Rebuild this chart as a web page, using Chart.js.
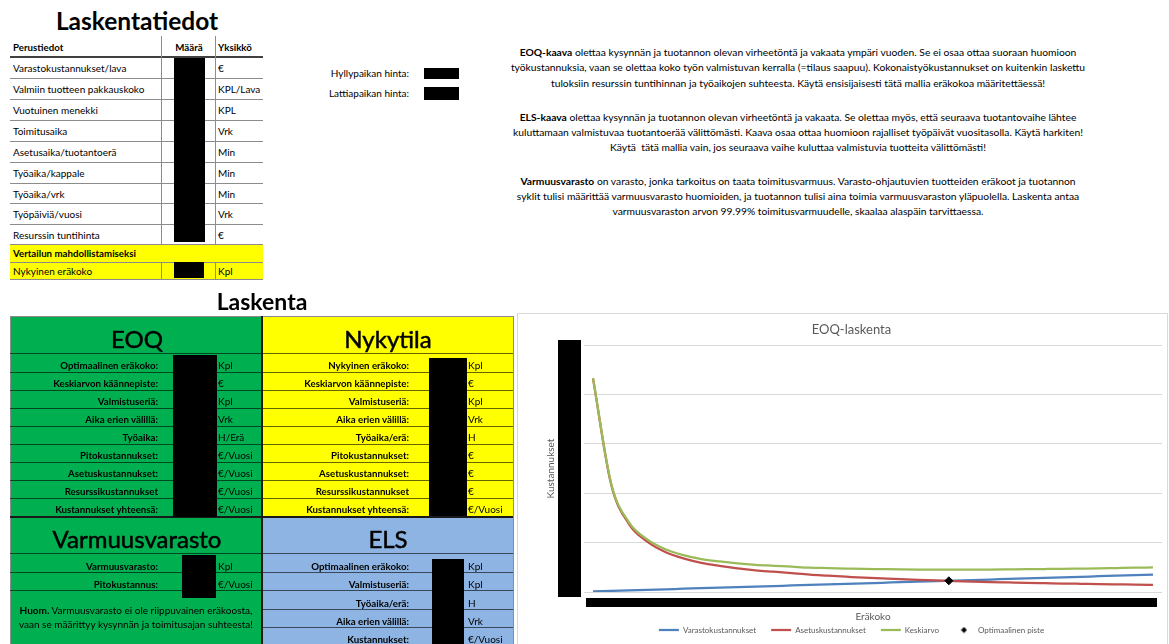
<!DOCTYPE html>
<html>
<head>
<meta charset="utf-8">
<script src="https://cdn.jsdelivr.net/npm/chart.js@4.4.0/dist/chart.umd.min.js"></script>
<style>
  body { margin: 0; width: 1169px; height: 644px; overflow: hidden; background: #fff; font-family: Lato, "Noto Sans", sans-serif; color: #000; position: relative; }
  .a { position: absolute; white-space: pre; }
  #chartBox { position: absolute; left: 517px; top: 313px; width: 649px; height: 340px; border: 1px solid #d9d9d9; }
  #chartWrap { position: relative; width: 649px; height: 330px; }
</style>
</head>
<body>
<div id="chartBox"><div id="chartWrap"><canvas id="eoq"></canvas></div></div>
<script>
// chart data (gridline step = 100)
const eraKoko = [10, 20, 30, 40, 50, 60, 70, 80, 90, 100, 110, 120, 130, 140, 150, 160,
  170, 180, 190, 200, 210, 220, 230, 240, 250, 260, 270, 280, 290, 300, 310, 320];
const varastoKust = [1.1, 2.2, 3.3, 4.4, 5.5, 6.6, 7.7, 8.8, 9.9, 11.0, 12.1, 13.2, 14.3, 15.4, 16.5, 17.6,
  18.7, 19.8, 20.9, 22.0, 23.1, 24.2, 25.3, 26.4, 27.5, 28.6, 29.7, 30.8, 31.9, 33.0, 34.1, 35.2];
const asetusKust = [432, 218, 137, 102, 81, 68, 59, 53, 48, 44, 41, 38, 35, 33, 31, 29,
  27.5, 26, 24.6, 23.3, 22.1, 21.1, 20.2, 19.4, 18.6, 17.9, 17.2, 16.6, 16, 15.5, 15, 14.6];
const keskiarvo = [433.1, 220.2, 140.3, 106.4, 86.5, 74.6, 66.7, 61.8, 57.9, 55, 53.1, 51.2, 49.3, 48.4, 47.5, 46.6,
  46.2, 45.8, 45.5, 45.3, 45.2, 45.3, 45.5, 45.8, 46.1, 46.5, 46.9, 47.4, 47.9, 48.5, 49.1, 49.8];
const optimiEra = [207];
const optimiKust = [22.7];
const yTicks = [0, 100, 200, 300, 400, 500];

// sheet texts
const perusRivit = [
  ["Varastokustannukset/lava", "€"], ["Valmiin tuotteen pakkauskoko", "KPL/Lava"], ["Vuotuinen menekki", "KPL"],
  ["Toimitusaika", "Vrk"], ["Asetusaika/tuotantoerä", "Min"], ["Työaika/kappale", "Min"],
  ["Työaika/vrk", "Min"], ["Työpäiviä/vuosi", "Vrk"], ["Resurssin tuntihinta", "€"]
];
const eoqRivit = [
  ["Optimaalinen eräkoko:", "Kpl"], ["Keskiarvon käännepiste:", "€"], ["Valmistuseriä:", "Kpl"],
  ["Aika erien välillä:", "Vrk"], ["Työaika:", "H/Erä"], ["Pitokustannukset:", "€/Vuosi"],
  ["Asetuskustannukset:", "€/Vuosi"], ["Resurssikustannukset", "€/Vuosi"], ["Kustannukset yhteensä:", "€/Vuosi"]
];
const nykyRivit = [
  ["Nykyinen eräkoko:", "Kpl"], ["Keskiarvon käännepiste:", "€"], ["Valmistuseriä:", "Kpl"],
  ["Aika erien välillä:", "Vrk"], ["Työaika/erä:", "H"], ["Pitokustannukset:", "€"],
  ["Asetuskustannukset:", "€"], ["Resurssikustannukset", "€"], ["Kustannukset yhteensä:", "€/Vuosi"]
];
const varmuusRivit = [["Varmuusvarasto:", "Kpl"], ["Pitokustannus:", "€/Vuosi"]];
const elsRivit = [
  ["Optimaalinen eräkoko:", "Kpl"], ["Valmistuseriä:", "Kpl"], ["Työaika/erä:", "H"],
  ["Aika erien välillä:", "Vrk"], ["Kustannukset:", "€/Vuosi"]
];
const kappaleet = [
  ["<b>EOQ-kaava</b> olettaa kysynnän ja tuotannon olevan virheetöntä ja vakaata ympäri vuoden. Se ei osaa ottaa suoraan huomioon",
   "työkustannuksia, vaan se olettaa koko työn valmistuvan kerralla (=tilaus saapuu). Kokonaistyökustannukset on kuitenkin laskettu",
   "tuloksiin resurssin tuntihinnan ja työaikojen suhteesta. Käytä ensisijaisesti tätä mallia eräkokoa määritettäessä!"],
  ["<b>ELS-kaava</b> olettaa kysynnän ja tuotannon olevan virheetöntä ja vakaata. Se olettaa myös, että seuraava tuotantovaihe lähtee",
   "kuluttamaan valmistuvaa tuotantoerää välittömästi. Kaava osaa ottaa huomioon rajalliset työpäivät vuositasolla. Käytä harkiten!",
   "Käytä  tätä mallia vain, jos seuraava vaihe kuluttaa valmistuvia tuotteita välittömästi!"],
  ["<b>Varmuusvarasto</b> on varasto, jonka tarkoitus on taata toimitusvarmuus. Varasto-ohjautuvien tuotteiden eräkoot ja tuotannon",
   "syklit tulisi määrittää varmuusvarasto huomioiden, ja tuotannon tulisi aina toimia varmuusvaraston yläpuolella. Laskenta antaa",
   "varmuusvaraston arvon 99.99% toimitusvarmuudelle, skaalaa alaspäin tarvittaessa."]
];

const el = (x, y, w, h, css, html) => {
  const d = document.createElement('div');
  d.className = 'a';
  d.style.cssText = `left:${x}px;top:${y}px;width:${w}px;height:${h}px;` + (css || '');
  if (html != null) d.innerHTML = html;
  document.body.appendChild(d);
  return d;
};
const rect = (x1, y1, x2, y2, bg) => el(x1, y1, x2 - x1, y2 - y1, `background:${bg}`);
const hline = (x1, x2, y, c, t) => el(x1, y, x2 - x1, t || 1, `background:${c}`);
const vline = (x, y1, y2, c, t) => el(x, y1, t || 1, y2 - y1, `background:${c}`);
const txt = (x, y, s, align, css) => {
  const base = 'line-height:16px;' + (css || '');
  if (align === 'r') return el(x - 400, y - 8, 400, 16, 'text-align:right;' + base, s);
  if (align === 'c') return el(x - 400, y - 8, 800, 16, 'text-align:center;' + base, s);
  return el(x, y - 8, 400, 16, base, s);
};
const small = 'font-size:10px;';
const smallB = 'font-size:9.7px;font-weight:bold;';

// --- Laskentatiedot ---
rect(10, 244, 263, 279, '#ffff00');
txt(137, 21, 'Laskentatiedot', 'c', 'font-size:24.5px;font-weight:bold;');
txt(13, 47, 'Perustiedot', 'l', smallB);
txt(189, 47, 'Määrä', 'c', smallB);
txt(218, 47, 'Yksikkö', 'l', smallB);
hline(10, 263, 56, '#404040', 2);
const rowTops = [57, 78, 99, 120, 141, 162, 183, 203, 224, 244];
perusRivit.forEach((r, i) => {
  const cy = (rowTops[i] + rowTops[i + 1]) / 2 + 0.5;
  txt(13, cy, r[0], 'l', small);
  txt(218, cy, r[1], 'l', small);
  hline(10, 263, rowTops[i + 1], '#8c8c8c');
});
vline(161, 36, 244, '#8c8c8c');
vline(215, 36, 244, '#8c8c8c');
vline(161, 262, 279, '#8c8c8c');
vline(215, 262, 279, '#8c8c8c');
hline(10, 263, 262, '#8c8c8c');
hline(10, 263, 279, '#8c8c8c');
txt(13, 253, 'Vertailun mahdollistamiseksi', 'l', smallB);
txt(13, 271, 'Nykyinen eräkoko', 'l', small);
txt(218, 271, 'Kpl', 'l', small);
rect(174, 58, 205, 242, '#000');
rect(174, 262, 204, 278, '#000');

// --- hinnat ---
txt(409, 73, 'Hyllypaikan hinta:', 'r', small);
txt(409, 93, 'Lattiapaikan hinta:', 'r', small);
rect(424, 68, 459, 79, '#000');
rect(424, 87, 459, 100, '#000');

// --- selitteet ---
const parY = [[52, 67, 83], [117, 132, 147], [181, 196, 211]];
kappaleet.forEach((p, i) => p.forEach((line, j) => txt(798, parY[i][j], line, 'c', 'font-size:10.3px;')));

// --- Laskenta ---
txt(262, 301, 'Laskenta', 'c', 'font-size:23px;font-weight:bold;');
rect(10, 316, 262, 517, '#00b050');
rect(262, 316, 513, 517, '#ffff00');
rect(10, 517, 262, 644, '#00b050');
rect(262, 517, 513, 644, '#8db4e2');
const rowLine = 'rgba(0,0,0,0.6)';
hline(10, 513, 316, '#8c8c8c');
vline(10, 316, 644, '#8c8c8c');
vline(513, 316, 644, '#8c8c8c');
const headFont = 'font-size:24px;-webkit-text-stroke:0.5px #000;';
txt(137, 339, 'EOQ', 'c', headFont);
txt(388, 339, 'Nykytila', 'c', headFont);
txt(137, 539, 'Varmuusvarasto', 'c', headFont);
txt(388, 539, 'ELS', 'c', headFont);
const calcTops = [353, 371.5, 389.5, 407.5, 425.5, 443.5, 461.5, 479.5, 497.5, 516];
hline(10, 513, 353, rowLine);
eoqRivit.forEach((r, i) => {
  const cy = calcTops[i + 1] - 7;
  txt(158, cy, r[0], 'r', smallB);
  txt(218, cy, r[1], 'l', small);
  txt(409, cy, nykyRivit[i][0], 'r', smallB);
  txt(468, cy, nykyRivit[i][1], 'l', small);
  if (i < 8) hline(10, 513, calcTops[i + 1], rowLine);
});
const lowTops = [553, 571.5, 590, 608.5, 627, 645];
hline(10, 513, 553, rowLine);
varmuusRivit.forEach((r, i) => {
  const cy = lowTops[i + 1] - 6;
  txt(158, cy, r[0], 'r', smallB);
  txt(218, cy, r[1], 'l', small);
  hline(10, 262, lowTops[i + 1], rowLine);
});
elsRivit.forEach((r, i) => {
  const cy = lowTops[i + 1] - 6;
  txt(409, cy, r[0], 'r', smallB);
  txt(468, cy, r[1], 'l', small);
  if (i < 4) hline(262, 513, lowTops[i + 1], rowLine);
});
txt(136, 610, '<b>Huom.</b> Varmuusvarasto ei ole riippuvainen eräkoosta,', 'c', small);
txt(136, 623.5, 'vaan se määrittyy kysynnän ja toimitusajan suhteesta!', 'c', small);
vline(261, 316, 644, '#1a1a1a', 2);
hline(10, 513, 516, '#1a1a1a', 2);
rect(173, 355, 217, 517, '#000');
rect(429, 358, 467, 516, '#000');
rect(182, 555, 216, 598, '#000');
rect(432, 559, 464, 644, '#000');

// --- chart ---
const redact = {
  id: 'redact',
  afterDraw(chart) {
    const { ctx, chartArea: a } = chart;
    ctx.save();
    ctx.fillStyle = '#000';
    ctx.fillRect(a.left - 26, a.top - 5, 23, a.bottom - a.top + 10);
    ctx.fillRect(a.left + 2, a.bottom + 6, a.right - a.left - 7, 9);
    ctx.restore();
  }
};

// small diamond used for the legend entry of the optimum point
const legendDiamond = document.createElement('canvas');
legendDiamond.width = 7;
legendDiamond.height = 7;
(() => {
  const c = legendDiamond.getContext('2d');
  c.fillStyle = '#000';
  c.beginPath();
  c.moveTo(3.5, 0.5); c.lineTo(6.5, 3.5); c.lineTo(3.5, 6.5); c.lineTo(0.5, 3.5);
  c.closePath();
  c.fill();
})();

const toPoints = (xs, ys) => xs.map((x, i) => ({ x: x, y: ys[i] }));

new Chart(document.getElementById('eoq'), {
  type: 'line',
  data: {
    datasets: [
      { label: 'Varastokustannukset', data: toPoints(eraKoko, varastoKust), borderColor: '#4f81bd', backgroundColor: '#4f81bd', borderWidth: 2.25, pointRadius: 0, pointStyle: 'line', cubicInterpolationMode: 'monotone', order: 3 },
      { label: 'Asetuskustannukset', data: toPoints(eraKoko, asetusKust), borderColor: '#c0504d', backgroundColor: '#c0504d', borderWidth: 2.25, pointRadius: 0, pointStyle: 'line', cubicInterpolationMode: 'monotone', order: 2 },
      { label: 'Keskiarvo', data: toPoints(eraKoko, keskiarvo), borderColor: '#9bbb59', backgroundColor: '#9bbb59', borderWidth: 2.25, pointRadius: 0, pointStyle: 'line', cubicInterpolationMode: 'monotone', order: 1 },
      { label: 'Optimaalinen piste', data: toPoints(optimiEra, optimiKust), showLine: false, borderColor: '#000', backgroundColor: '#000', pointStyle: 'rectRot', pointRadius: 4, borderWidth: 1, order: 0 }
    ]
  },
  options: {
    responsive: true,
    maintainAspectRatio: false,
    animation: false,
    layout: { padding: { left: 23, right: 5, top: 0, bottom: 0 } },
    plugins: {
      title: { display: true, text: 'EOQ-laskenta', color: '#595959', font: { family: 'Lato', size: 13, weight: 'normal' }, padding: { top: 8, bottom: 7.4 } },
      legend: {
        position: 'bottom',
        labels: {
          usePointStyle: true, pointStyleWidth: 20, boxHeight: 3.5, padding: 15, color: '#595959',
          font: { family: 'Lato', size: 8 },
          generateLabels: chart => {
            const items = Chart.defaults.plugins.legend.labels.generateLabels(chart);
            items.forEach(it => { if (it.text === 'Optimaalinen piste') it.pointStyle = legendDiamond; });
            return items;
          },
          sort: (a, b) => a.datasetIndex - b.datasetIndex
        }
      },
      tooltip: { enabled: false }
    },
    scales: {
      x: {
        type: 'linear', min: 5, max: 325,
        grid: { display: false }, border: { display: false },
        ticks: { display: false },
        title: { display: true, text: 'Eräkoko', color: '#595959', font: { family: 'Lato', size: 10 }, padding: { top: 0, bottom: -12 } },
        afterFit: s => { s.height = 19; }
      },
      y: {
        min: 0, max: 500,
        afterBuildTicks: s => { s.ticks = yTicks.map(v => ({ value: v })); },
        grid: { color: '#d9d9d9', drawTicks: false }, border: { display: false },
        ticks: { display: false },
        title: { display: true, text: 'Kustannukset', color: '#595959', font: { family: 'Lato', size: 10 } },
        afterFit: s => { s.width = 43; }
      }
    }
  },
  plugins: [redact]
});
</script>
</body>
</html>
